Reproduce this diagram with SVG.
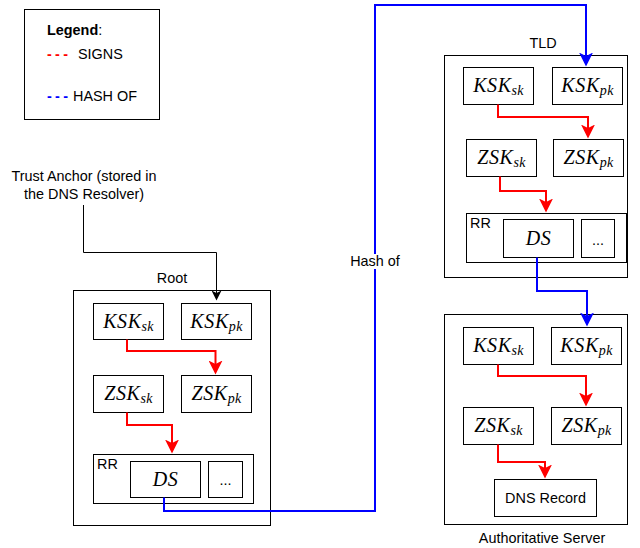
<svg xmlns="http://www.w3.org/2000/svg" width="640" height="548" viewBox="0 0 640 548">
<style>
.box{fill:#fff;stroke:#000;stroke-width:1}
.lbl{font-family:"Liberation Sans",Arial,sans-serif;font-size:14.4px;fill:#000}
.math{font-family:"Liberation Serif","Times New Roman",serif;font-style:italic;font-size:20px;letter-spacing:0.6px;fill:#000;text-anchor:middle}
.sub{font-size:14px;letter-spacing:0.3px}
.red{fill:none;stroke:#ff0000;stroke-width:2}
.blue{fill:none;stroke:#0000ff;stroke-width:2}
.blk{fill:none;stroke:#000;stroke-width:1}
</style>
<defs>
<marker id="ar" markerUnits="userSpaceOnUse" viewBox="0 0 14 14" refX="3.5" refY="7" markerWidth="14" markerHeight="14" orient="auto"><path d="M0,0 L14,7 L0,14 L3.5,7 Z" fill="#ff0000"/></marker>
<marker id="ab" markerUnits="userSpaceOnUse" viewBox="0 0 14 14" refX="3.5" refY="7" markerWidth="14" markerHeight="14" orient="auto"><path d="M0,0 L14,7 L0,14 L3.5,7 Z" fill="#0000ff"/></marker>
<marker id="ak" markerUnits="userSpaceOnUse" viewBox="0 0 10 10" refX="2.5" refY="5" markerWidth="10" markerHeight="10" orient="auto"><path d="M0,0 L10,5 L0,10 L2.5,5 Z" fill="#000"/></marker>
</defs>
<rect width="640" height="548" fill="#fff"/>

<g id="legend">
<rect class="box" x="24.5" y="9.5" width="135" height="110"/>
<text class="lbl" x="47" y="35"><tspan font-weight="bold">Legend</tspan>:</text>
<text class="lbl" x="47" y="59"><tspan fill="#ff0000" font-weight="bold" textLength="21" lengthAdjust="spacing">---</tspan><tspan x="78">SIGNS</tspan></text>
<text class="lbl" x="47" y="101"><tspan fill="#0000ff" font-weight="bold" textLength="21" lengthAdjust="spacing">---</tspan><tspan x="73">HASH OF</tspan></text>
</g>

<g id="trust-anchor">
<text class="lbl" text-anchor="middle" x="84" y="181">Trust Anchor (stored in</text>
<text class="lbl" text-anchor="middle" x="84" y="199">the DNS Resolver)</text>
</g>

<g id="root">
<rect class="box" x="73.5" y="290.5" width="197" height="235"/>
<text class="lbl" text-anchor="middle" x="172" y="283">Root</text>
<g id="root-ksk-sk"><rect class="box" x="93.5" y="303.5" width="70" height="36"/><text class="math" x="128.5" y="328">KSK<tspan class="sub" dy="3">sk</tspan></text></g>
<g id="root-ksk-pk"><rect class="box" x="181.5" y="303.5" width="70" height="36"/><text class="math" x="216.5" y="328">KSK<tspan class="sub" dy="3">pk</tspan></text></g>
<g id="root-zsk-sk"><rect class="box" x="93.5" y="375.5" width="70" height="37"/><text class="math" x="128.5" y="400">ZSK<tspan class="sub" dy="3">sk</tspan></text></g>
<g id="root-zsk-pk"><rect class="box" x="181.5" y="375.5" width="70" height="37"/><text class="math" x="216.5" y="400">ZSK<tspan class="sub" dy="3">pk</tspan></text></g>
<g id="root-rr"><rect class="box" x="93.5" y="454.5" width="160" height="49"/><text class="lbl" x="97" y="469">RR</text></g>
<g id="root-ds"><rect class="box" x="130.5" y="461.5" width="70" height="36"/><text class="math" x="165.5" y="486">DS</text></g>
<g id="root-more"><rect class="box" x="208.5" y="461.5" width="34" height="36"/><text class="lbl" text-anchor="middle" x="225.5" y="485" font-size="12">...</text></g>
</g>

<g id="tld">
<rect class="box" x="444.5" y="55.5" width="183" height="222"/>
<text class="lbl" text-anchor="middle" x="543" y="48">TLD</text>
<g id="tld-ksk-sk"><rect class="box" x="463.5" y="67.5" width="70" height="37"/><text class="math" x="498.5" y="92">KSK<tspan class="sub" dy="3">sk</tspan></text></g>
<g id="tld-ksk-pk"><rect class="box" x="552.5" y="67.5" width="70" height="37"/><text class="math" x="587.5" y="92">KSK<tspan class="sub" dy="3">pk</tspan></text></g>
<g id="tld-zsk-sk"><rect class="box" x="466.5" y="139.5" width="70" height="37"/><text class="math" x="501.5" y="164">ZSK<tspan class="sub" dy="3">sk</tspan></text></g>
<g id="tld-zsk-pk"><rect class="box" x="553.5" y="139.5" width="70" height="37"/><text class="math" x="588.5" y="164">ZSK<tspan class="sub" dy="3">pk</tspan></text></g>
<g id="tld-rr"><rect class="box" x="466.5" y="213.5" width="160" height="49"/><text class="lbl" x="470" y="228">RR</text></g>
<g id="tld-ds"><rect class="box" x="503.5" y="219.5" width="70" height="38"/><text class="math" x="538.5" y="245">DS</text></g>
<g id="tld-more"><rect class="box" x="581.5" y="219.5" width="33" height="38"/><text class="lbl" text-anchor="middle" x="598" y="245" font-size="12">...</text></g>
</g>

<g id="auth">
<rect class="box" x="444.5" y="314.5" width="183" height="210"/>
<text class="lbl" text-anchor="middle" x="542" y="543">Authoritative Server</text>
<g id="auth-ksk-sk"><rect class="box" x="463.5" y="327.5" width="70" height="37"/><text class="math" x="498.5" y="352">KSK<tspan class="sub" dy="3">sk</tspan></text></g>
<g id="auth-ksk-pk"><rect class="box" x="551.5" y="327.5" width="70" height="37"/><text class="math" x="586.5" y="352">KSK<tspan class="sub" dy="3">pk</tspan></text></g>
<g id="auth-zsk-sk"><rect class="box" x="463.5" y="407.5" width="70" height="37"/><text class="math" x="498.5" y="432">ZSK<tspan class="sub" dy="3">sk</tspan></text></g>
<g id="auth-zsk-pk"><rect class="box" x="551.5" y="407.5" width="70" height="37"/><text class="math" x="586.5" y="432">ZSK<tspan class="sub" dy="3">pk</tspan></text></g>
<g id="auth-dns"><rect class="box" x="494.5" y="479.5" width="102" height="37"/><text class="lbl" text-anchor="middle" x="545.5" y="503">DNS Record</text></g>
</g>

<g id="connectors">
<path class="blk" d="M83.5,205 V252.5 H216.5 V293" marker-end="url(#ak)"/>
<path class="red" d="M127,339.5 V351 H215.5 V364" marker-end="url(#ar)"/>
<path class="red" d="M127,412.5 V425 H172 V443" marker-end="url(#ar)"/>
<path class="blue" d="M164,497.5 V511 H375 V5 H586 V56" marker-end="url(#ab)"/>
<rect x="350" y="254" width="50" height="15" fill="#fff"/>
<text class="lbl" text-anchor="middle" x="375" y="266">Hash of</text>
<path class="red" d="M498,104.5 V117 H588 V128" marker-end="url(#ar)"/>
<path class="red" d="M500,176.5 V191 H546 V202" marker-end="url(#ar)"/>
<path class="blue" d="M537,257.5 V291 H587 V316" marker-end="url(#ab)"/>
<path class="red" d="M498,364.5 V376 H586 V396" marker-end="url(#ar)"/>
<path class="red" d="M498,444.5 V462 H545 V468" marker-end="url(#ar)"/>
</g>
</svg>
